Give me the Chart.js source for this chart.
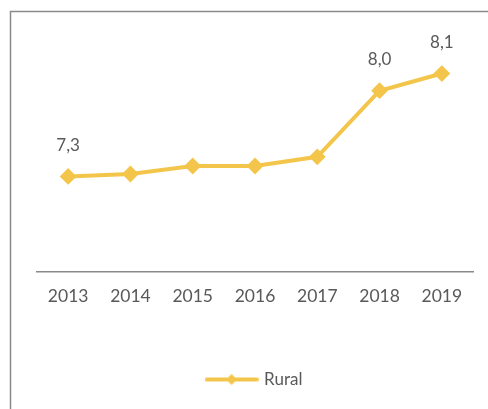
<!DOCTYPE html>
<html>
<head>
<meta charset="utf-8">
<script src="https://cdn.jsdelivr.net/npm/chart.js@4/dist/chart.umd.min.js"></script>
<style>
  html, body { margin: 0; padding: 0; background: #ffffff; }
  #wrap { position: relative; width: 488px; height: 409px; }
</style>
</head>
<body>
<div id="wrap"><canvas id="c" width="488" height="409"></canvas></div>
<script>
const categories = ['2013', '2014', '2015', '2016', '2017', '2018', '2019'];
const seriesName = 'Rural';
const ruralValues = [7.28, 7.30, 7.365, 7.365, 7.44, 7.98, 8.12];
const showValueLabel = [true, false, false, false, false, true, true];

const GOLD = '#F3C64B';
const TEXT = '#595959';
const FONT = 'Lato, "Open Sans", sans-serif';

// legend symbol: line with a small diamond
const legendSym = document.createElement('canvas');
legendSym.width = 54; legendSym.height = 14;
(function () {
  const g = legendSym.getContext('2d');
  g.strokeStyle = GOLD; g.lineWidth = 4; g.lineCap = 'round';
  g.beginPath(); g.moveTo(2, 7); g.lineTo(52, 7); g.stroke();
  g.fillStyle = GOLD;
  g.beginPath(); g.moveTo(27, 1.5); g.lineTo(32.5, 7); g.lineTo(27, 12.5); g.lineTo(21.5, 7); g.closePath(); g.fill();
})();

const frame = {
  id: 'frame',
  beforeDraw(chart) {
    const ctx = chart.ctx;
    ctx.save();
    ctx.strokeStyle = '#8a8a8a';
    ctx.lineWidth = 1.5;
    ctx.strokeRect(10.5, 11.5, 600, 600);
    ctx.restore();
  }
};

const valueLabels = {
  id: 'valueLabels',
  afterDatasetsDraw(chart) {
    const ctx = chart.ctx;
    const meta = chart.getDatasetMeta(0);
    ctx.save();
    ctx.font = '17px ' + FONT;
    ctx.fillStyle = TEXT;
    ctx.textAlign = 'center';
    ctx.textBaseline = 'middle';
    meta.data.forEach((pt, i) => {
      if (!showValueLabel[i]) return;
      const txt = ruralValues[i].toFixed(1).replace('.', ',');
      ctx.fillText(txt, pt.x, pt.y - 31);
    });
    ctx.restore();
  }
};

new Chart(document.getElementById('c'), {
  type: 'line',
  data: {
    labels: categories,
    datasets: [{
      label: seriesName,
      data: ruralValues,
      borderColor: GOLD,
      backgroundColor: GOLD,
      borderWidth: 4,
      pointStyle: 'rectRot',
      pointRadius: 7,
      pointBorderWidth: 2,
      pointBackgroundColor: GOLD,
      pointBorderColor: GOLD,
      tension: 0,
      fill: false
    }]
  },
  options: {
    responsive: false,
    animation: false,
    devicePixelRatio: 1,
    layout: { padding: { left: 37, right: 15, top: 27, bottom: 11 } },
    scales: {
      x: {
        offset: true,
        grid: { display: false, drawTicks: false },
        border: { display: true, color: '#8a8a8a', width: 1.5 },
        ticks: { color: TEXT, font: { family: FONT, size: 17.5 }, padding: 14, maxRotation: 0 }
      },
      y: {
        display: false,
        min: 6.5,
        max: 8.5
      }
    },
    plugins: {
      legend: {
        position: 'bottom',
        title: { display: true, text: ' ', font: { size: 10 }, padding: { top: 10, bottom: 0 } },
        labels: {
          usePointStyle: true,
          pointStyle: legendSym,
          pointStyleWidth: 48,
          color: TEXT,
          font: { family: FONT, size: 17 },
          padding: 28
        }
      },
      tooltip: { enabled: false }
    }
  },
  plugins: [frame, valueLabels]
});
</script>
</body>
</html>
